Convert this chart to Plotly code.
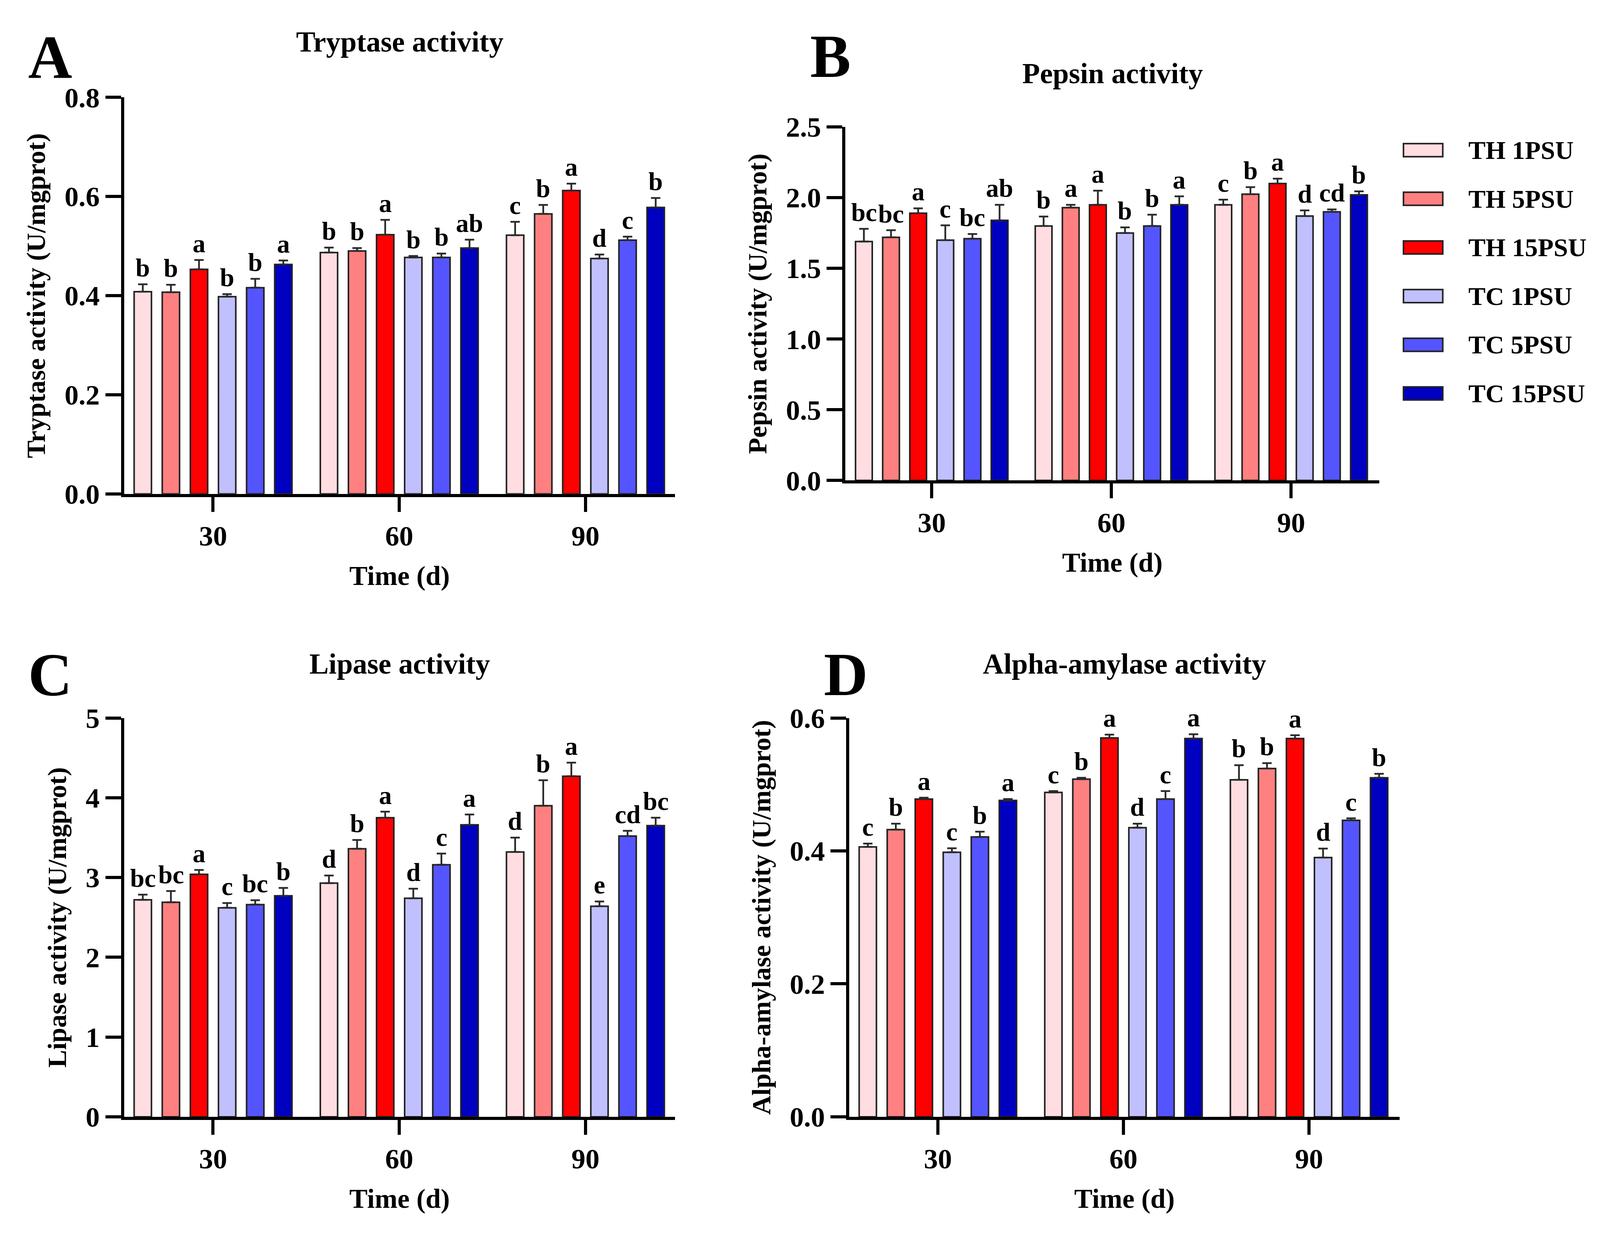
import plotly.graph_objects as go

# groups and series
times = ["30", "60", "90"]
series = ["TH 1PSU", "TH 5PSU", "TH 15PSU", "TC 1PSU", "TC 5PSU", "TC 15PSU"]
colors = ["#FFDDE1", "#FF8080", "#FF0000", "#C0C0FF", "#5555FF", "#0000C0"]

# rows = time (30, 60, 90 d), columns = series
tryptase_mean = [
    [0.408, 0.407, 0.453, 0.398, 0.416, 0.463],
    [0.487, 0.490, 0.523, 0.477, 0.477, 0.496],
    [0.522, 0.565, 0.612, 0.475, 0.512, 0.578],
]
tryptase_err = [
    [0.015, 0.015, 0.019, 0.005, 0.018, 0.008],
    [0.010, 0.006, 0.030, 0.003, 0.008, 0.017],
    [0.027, 0.018, 0.014, 0.008, 0.007, 0.019],
]
tryptase_sig = [
    ["b", "b", "a", "b", "b", "a"],
    ["b", "b", "a", "b", "b", "ab"],
    ["c", "b", "a", "d", "c", "b"],
]

pepsin_mean = [
    [1.69, 1.72, 1.89, 1.70, 1.71, 1.84],
    [1.80, 1.93, 1.95, 1.75, 1.80, 1.95],
    [1.95, 2.025, 2.10, 1.87, 1.90, 2.02],
]
pepsin_err = [
    [0.09, 0.05, 0.035, 0.105, 0.033, 0.11],
    [0.067, 0.02, 0.10, 0.04, 0.08, 0.06],
    [0.036, 0.05, 0.035, 0.04, 0.017, 0.025],
]
pepsin_sig = [
    ["bc", "bc", "a", "c", "bc", "ab"],
    ["b", "a", "a", "b", "b", "a"],
    ["c", "b", "a", "d", "cd", "b"],
]

lipase_mean = [
    [2.72, 2.69, 3.04, 2.62, 2.66, 2.77],
    [2.93, 3.36, 3.75, 2.74, 3.16, 3.66],
    [3.32, 3.90, 4.27, 2.64, 3.52, 3.65],
]
lipase_err = [
    [0.065, 0.14, 0.055, 0.06, 0.055, 0.10],
    [0.095, 0.11, 0.075, 0.12, 0.14, 0.13],
    [0.18, 0.32, 0.17, 0.06, 0.065, 0.10],
]
lipase_sig = [
    ["bc", "bc", "a", "c", "bc", "b"],
    ["d", "b", "a", "d", "c", "a"],
    ["d", "b", "a", "e", "cd", "bc"],
]

amylase_mean = [
    [0.406, 0.432, 0.478, 0.398, 0.421, 0.476],
    [0.488, 0.508, 0.570, 0.435, 0.478, 0.569],
    [0.507, 0.524, 0.569, 0.390, 0.446, 0.510],
]
amylase_err = [
    [0.005, 0.009, 0.002, 0.006, 0.008, 0.002],
    [0.002, 0.002, 0.005, 0.006, 0.012, 0.0065],
    [0.022, 0.008, 0.005, 0.0136, 0.003, 0.006],
]
amylase_sig = [
    ["c", "b", "a", "c", "b", "a"],
    ["c", "b", "a", "d", "c", "a"],
    ["b", "b", "a", "d", "c", "b"],
]

# reference page size, used only to turn pixel positions into fractions
W, H = 4152, 3201
FONT = "Liberation Serif"
slot = 0.151
barw = 0.093


def fx(px):
    return px / W


def fy(px):
    # small correction for the vertical offset seen in the rendered page
    return 1 - (px - 37.6) / 0.989 / H


# layout of the four panels, in page pixels
panels = [
    dict(title="Tryptase activity", ytitle="Tryptase activity (U/mgprot)", mean=tryptase_mean,
         err=tryptase_err, sig=tryptase_sig, yr=[0, 0.8], dtick=0.2, fmt=".1f",
         xpx=[322, 1752], ypx=[1281, 251], xr=[-0.478, 2.482], tag="A", tagpos=(130, 147), ty=107),
    dict(title="Pepsin activity", ytitle="Pepsin activity (U/mgprot)", mean=pepsin_mean,
         err=pepsin_err, sig=pepsin_sig, yr=[0, 2.5], dtick=0.5, fmt=".1f",
         xpx=[2194, 3579], ypx=[1246, 328], xr=[-0.48, 2.49], tag="B", tagpos=(2155, 145), ty=189),
    dict(title="Lipase activity", ytitle="Lipase activity (U/mgprot)", mean=lipase_mean,
         err=lipase_err, sig=lipase_sig, yr=[0, 5], dtick=1, fmt="d",
         xpx=[322, 1752], ypx=[2899, 1863], xr=[-0.478, 2.482], tag="C", tagpos=(130, 1750), ty=1722),
    dict(title="Alpha-amylase activity", ytitle="Alpha-amylase activity (U/mgprot)", mean=amylase_mean,
         err=amylase_err, sig=amylase_sig, yr=[0, 0.6], dtick=0.2, fmt=".1f",
         xpx=[2204, 3632], ypx=[2899, 1863], xr=[-0.477, 2.488], tag="D", tagpos=(2195, 1750), ty=1722),
]

fig = go.Figure()
annotations = []
shapes = []

for k, p in enumerate(panels):
    suf = "" if k == 0 else str(k + 1)
    xa, ya = "x" + suf, "y" + suf
    for i, name in enumerate(series):
        xs = [g + (i - 2.5) * slot for g in range(len(times))]
        ys = [p["mean"][g][i] for g in range(len(times))]
        es = [p["err"][g][i] for g in range(len(times))]
        fig.add_trace(go.Bar(
            x=xs, y=ys, width=barw, name=name, showlegend=False,
            marker=dict(color=colors[i], line=dict(color="#222222", width=4)),
            error_y=dict(type="data", array=es, arrayminus=[0] * len(es), symmetric=False,
                         color="#2a2a2a", thickness=4.5, width=12),
            xaxis=xa, yaxis=ya,
        ))
        for g in range(len(times)):
            annotations.append(dict(
                x=xs[g], y=ys[g] + es[g], xref=xa, yref=ya, text=p["sig"][g][i],
                showarrow=False, yanchor="bottom", xanchor="center", yshift=4,
                font=dict(family=FONT, size=66, color="black", weight="bold"),
            ))

    x0, x1 = fx(p["xpx"][0]), fx(p["xpx"][1])
    y0, y1 = fy(p["ypx"][0]), fy(p["ypx"][1])
    axfont = dict(family=FONT, size=72, color="black", weight="bold")
    fig.update_layout(**{
        "xaxis" + suf: dict(
            domain=[x0, x1], range=p["xr"], anchor=ya, tickvals=list(range(len(times))),
            ticktext=times, showline=True, linewidth=8, linecolor="black", ticks="outside",
            ticklen=38, tickwidth=8, tickcolor="black", tickfont=axfont, showgrid=False,
            zeroline=False, title=dict(text="Time (d)", font=dict(axfont, size=70), standoff=40),
        ),
        "yaxis" + suf: dict(
            domain=[y0, y1], range=p["yr"], anchor=xa, dtick=p["dtick"], tickformat=p["fmt"],
            showline=True, linewidth=8, linecolor="black", ticks="outside", ticklen=40,
            tickwidth=8, tickcolor="black", tickfont=axfont, showgrid=False, zeroline=False,
            title=dict(text=p["ytitle"], font=dict(family=FONT, size=68, color="black", weight="bold"),
                       standoff=30),
        ),
    })
    annotations.append(dict(
        x=(x0 + x1) / 2, y=fy(p["ty"]), xref="paper", yref="paper", text=p["title"],
        showarrow=False, xanchor="center", yanchor="middle",
        font=dict(family=FONT, size=74, color="black", weight="bold"),
    ))
    annotations.append(dict(
        x=fx(p["tagpos"][0]), y=fy(p["tagpos"][1]), xref="paper", yref="paper", text=p["tag"],
        showarrow=False, xanchor="center", yanchor="middle",
        font=dict(family=FONT, size=156, color="black", weight="bold"),
    ))

# legend drawn by hand so the swatches can be large
for i, name in enumerate(series):
    yc = 388 + i * 126.4
    shapes.append(dict(
        type="rect", xref="paper", yref="paper", x0=fx(3642), x1=fx(3744),
        y0=fy(yc + 17), y1=fy(yc - 17),
        fillcolor=colors[i], line=dict(color="#222222", width=4),
    ))
    annotations.append(dict(
        x=fx(3808), y=fy(yc), xref="paper", yref="paper", text=name, showarrow=False,
        xanchor="left", yanchor="middle",
        font=dict(family=FONT, size=66, color="black", weight="bold"),
    ))

fig.update_layout(
    autosize=True, barmode="overlay", plot_bgcolor="white", paper_bgcolor="white",
    margin=dict(l=0, r=0, t=0, b=0), annotations=annotations, shapes=shapes,
    font=dict(family=FONT, color="black"),
)

# fill the whole window, no body margin
fill = """
document.body.style.margin = '0';
document.body.style.overflow = 'hidden';
var gd = document.getElementById('{plot_id}');
gd.style.width = '100vw';
gd.style.height = '100vh';
Plotly.Plots.resize(gd);
"""
fig.write_html("out.html", post_script=fill, config={"displayModeBar": False})
